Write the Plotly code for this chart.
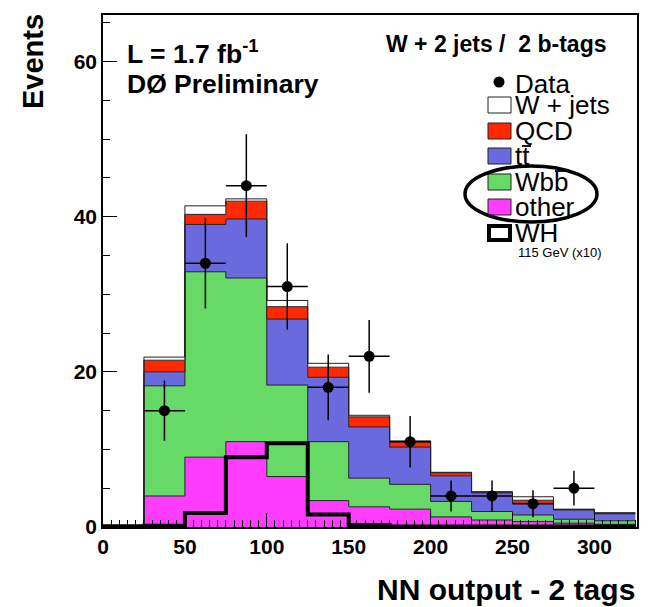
import plotly.graph_objects as go

# ---------------- data (13 bins of width 25, from 0 to 325) ----------------
bin_low_edges = [0, 25, 50, 75, 100, 125, 150, 175, 200, 225, 250, 275, 300]
bin_width = 25
other = [0, 4.0, 9.0, 11.0, 6.5, 3.4, 2.6, 2.3, 1.3, 0.9, 0.7, 0.5, 0.35]
wbb = [0, 14.2, 23.9, 21.1, 11.8, 7.6, 3.7, 3.2, 2.0, 1.1, 0.85, 0.5, 0.45]
ttbar = [0, 1.8, 6.1, 7.6, 8.5, 8.3, 6.6, 4.8, 3.3, 2.4, 1.5, 1.2, 0.9]
qcd = [0, 1.5, 1.3, 2.3, 1.6, 1.3, 1.3, 0.7, 0.4, 0.1, 0.4, 0.05, 0.05]
wjets = [0, 0.4, 1.1, 0.3, 0.8, 0.5, 0.2, 0.1, 0.05, 0.05, 0.45, 0.05, 0.1]
wh_x10 = [0.1, 0.15, 1.8, 9.0, 10.8, 1.6, 0.25, 0.05, 0.05, 0.05, 0.05, 0.05, 0.05]
data_counts = [0, 15, 34, 44, 31, 18, 22, 11, 4, 4, 3, 5, 0]

stack_names = ["other", "Wbb", "tt", "QCD", "W + jets"]
stack_values = [other, wbb, ttbar, qcd, wjets]
stack_colors = ["#ff3cff", "#66d966", "#6a6ade", "#ff2800", "#ffffff"]

# ---------------- layout geometry ----------------
W, H = 667, 607
ML, MR, MT, MB = 103, 30, 15, 80
PW, PH = W - ML - MR, H - MT - MB


def px(x):
    return (x - ML) / PW


def py(y):
    return (H - MB - y) / PH


FONT = "Liberation Sans"

fig = go.Figure()

edges_x = bin_low_edges + [bin_low_edges[-1] + bin_width]

cum = [0.0] * len(bin_low_edges)
for i, (name, vals, col) in enumerate(zip(stack_names, stack_values, stack_colors)):
    cum = [c + v for c, v in zip(cum, vals)]
    fig.add_trace(go.Scatter(
        x=edges_x, y=cum + [cum[-1]], mode="lines", line_shape="hv",
        line=dict(color="#222222", width=1),
        fill="tozeroy" if i == 0 else "tonexty", fillcolor=col,
        name=name, showlegend=False, hoverinfo="skip"))

fig.add_trace(go.Scatter(
    x=edges_x, y=wh_x10 + [wh_x10[-1]], mode="lines", line_shape="hv",
    line=dict(color="black", width=4), showlegend=False, hoverinfo="skip"))

dx, dy, de = [], [], []
for lo, n in zip(bin_low_edges, data_counts):
    if n > 0:
        dx.append(lo + bin_width / 2)
        dy.append(n)
        de.append(n ** 0.5)
fig.add_trace(go.Scatter(
    x=dx, y=dy, mode="markers",
    marker=dict(color="black", size=11),
    error_y=dict(type="data", array=de, color="black", thickness=1.5, width=0),
    error_x=dict(type="constant", value=bin_width / 2, color="black", thickness=1.5, width=0),
    showlegend=False, hoverinfo="skip"))

axis_common = dict(
    showgrid=False, zeroline=False, showline=True, linecolor="black", linewidth=1.5,
    mirror=True, ticks="inside", ticklen=14, tickwidth=1.2, tickcolor="black",
    tickfont=dict(family=FONT, size=21, color="black", weight="bold"),
    minor=dict(ticks="inside", ticklen=7, tickwidth=1, tickcolor="black", dtick=5),
)
fig.update_xaxes(range=[0, 326], tick0=0, dtick=50, **axis_common)
fig.update_yaxes(range=[0, 66], tick0=0, dtick=20, **axis_common)

ann = []
shapes = []

ann.append(dict(text="<b>Events</b>", x=px(33), y=py(62), xref="paper", yref="paper",
                textangle=-90, showarrow=False, xanchor="center", yanchor="middle",
                font=dict(family=FONT, size=29, color="black")))
ann.append(dict(text="<b>NN output - 2 tags</b>", x=px(637), y=py(589), xref="paper", yref="paper",
                showarrow=False, xanchor="right", yanchor="middle",
                font=dict(family=FONT, size=30, color="black")))
ann.append(dict(text="<b>W + 2 jets /  2 b-tags</b>", x=px(608), y=py(44), xref="paper", yref="paper",
                showarrow=False, xanchor="right", yanchor="middle",
                font=dict(family=FONT, size=23, color="black")))
ann.append(dict(text="<b>L = 1.7 fb<sup>-1</sup></b>", x=px(125), y=py(52), xref="paper", yref="paper",
                showarrow=False, xanchor="left", yanchor="middle",
                font=dict(family=FONT, size=26.5, color="black")))
ann.append(dict(text="<b>DØ Preliminary</b>", x=px(125), y=py(84), xref="paper", yref="paper",
                showarrow=False, xanchor="left", yanchor="middle",
                font=dict(family=FONT, size=26.5, color="black")))

# ---------------- hand-made legend ----------------
LEG_FS = 26
legend_rows = [
    ("Data", "marker", None, 84),
    ("W + jets", "box", stack_colors[4], 105),
    ("QCD", "box", stack_colors[3], 131),
    ("tt", "box", stack_colors[2], 156),
    ("Wbb", "box", stack_colors[1], 182),
    ("other", "box", stack_colors[0], 207),
    ("WH", "whbox", None, 233),
]
for label, kind, col, yc in legend_rows:
    if kind == "marker":
        fig.add_trace(go.Scatter(x=[px(499)], y=[py(yc - 2)], xaxis="x2", yaxis="y2", mode="markers",
                                 marker=dict(color="black", size=11), showlegend=False, hoverinfo="skip"))
    elif kind == "box":
        shapes.append(dict(type="rect", xref="paper", yref="paper",
                           x0=px(488), x1=px(511), y0=py(yc + 8), y1=py(yc - 8),
                           fillcolor=col, line=dict(color="#222222", width=1)))
    else:
        shapes.append(dict(type="rect", xref="paper", yref="paper",
                           x0=px(489), x1=px(510), y0=py(yc + 7), y1=py(yc - 7),
                           fillcolor="white", line=dict(color="black", width=4)))
    ann.append(dict(text=label, x=px(513), y=py(yc), xref="paper", yref="paper",
                    showarrow=False, xanchor="left", yanchor="middle",
                    font=dict(family=FONT, size=LEG_FS, color="black")))
ann.append(dict(text="115 GeV (x10)", x=px(516), y=py(252), xref="paper", yref="paper",
                showarrow=False, xanchor="left", yanchor="middle",
                font=dict(family=FONT, size=13, color="black")))

# anti-particle bars over the second t of "tt" and the second b of "Wbb"
shapes.append(dict(type="line", xref="paper", yref="paper",
                   x0=px(522), x1=px(531), y0=py(146), y1=py(146),
                   line=dict(color="black", width=1.8)))
shapes.append(dict(type="line", xref="paper", yref="paper",
                   x0=px(555), x1=px(569), y0=py(171), y1=py(171),
                   line=dict(color="black", width=1.8)))

shapes.append(dict(type="circle", xref="paper", yref="paper",
                   x0=px(465), x1=px(597), y0=py(222), y1=py(166),
                   line=dict(color="black", width=3.5)))

fig.update_layout(
    width=W, height=H, margin=dict(l=ML, r=MR, t=MT, b=MB),
    paper_bgcolor="white", plot_bgcolor="white",
    annotations=ann, shapes=shapes, showlegend=False,
    xaxis2=dict(range=[0, 1], overlaying="x", visible=False, fixedrange=True),
    yaxis2=dict(range=[0, 1], overlaying="y", visible=False, fixedrange=True),
)

fig.write_html("out.html")
